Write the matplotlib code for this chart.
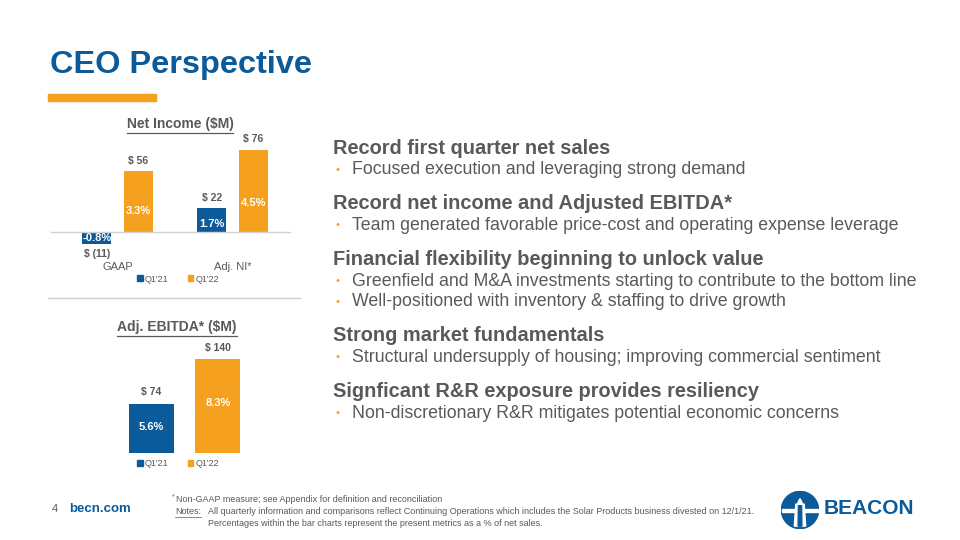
import matplotlib
matplotlib.use("Agg")
import matplotlib.pyplot as plt
from matplotlib.patches import Rectangle, Circle, Patch, Polygon
from matplotlib.lines import Line2D

plt.rcParams['font.family'] = ['Liberation Sans', 'DejaVu Sans']

# data
ni_categories = ["GAAP", "Adj. NI*"]
ni_q121 = [-11, 22]
ni_q122 = [56, 76]
ni_pct_q121 = ["-0.8%", "1.7%"]
ni_pct_q122 = ["3.3%", "4.5%"]

ebitda_q121 = [74]
ebitda_q122 = [140]
ebitda_pct_q121 = ["5.6%"]
ebitda_pct_q122 = ["8.3%"]

series_names = ["Q1'21", "Q1'22"]

headings = [
    "Record first quarter net sales",
    "Record net income and Adjusted EBITDA*",
    "Financial flexibility beginning to unlock value",
    "Strong market fundamentals",
    "Signficant R&R exposure provides resiliency",
]
bullets = [
    ["Focused execution and leveraging strong demand"],
    ["Team generated favorable price-cost and operating expense leverage"],
    ["Greenfield and M&A investments starting to contribute to the bottom line",
     "Well-positioned with inventory & staffing to drive growth"],
    ["Structural undersupply of housing; improving commercial sentiment"],
    ["Non-discretionary R&R mitigates potential economic concerns"],
]

BLUE = "#0B5A9A"
ORANGE = "#F5A01F"
GRAY = "#595959"
LGRAY = "#D0D0D0"

W, H = 960, 540
fig = plt.figure(figsize=(9.6, 5.4), dpi=100)


def fx(x):
    return x / W


def fy(y):
    return 1 - y / H


def money(v):
    return f"$ ({abs(v)})" if v < 0 else f"$ {v}"


def underline(t, color, lw=0.9, gap=2):
    fig.canvas.draw()
    bb = t.get_window_extent()
    inv = fig.transFigure.inverted()
    (x0, y0), (x1, y1) = inv.transform([(bb.x0, bb.y0 - gap), (bb.x1, bb.y0 - gap)])
    fig.add_artist(Line2D([x0, x1], [y0, y1], color=color, lw=lw, transform=fig.transFigure))


# title
fig.text(fx(50), fy(73), "CEO Perspective", fontsize=23.4, weight="bold", color=BLUE, va="baseline")
fig.add_artist(Rectangle((fx(48), fy(101)), 108 / W, 7 / H, color=ORANGE, transform=fig.transFigure))

# net income chart
ax1 = fig.add_axes([fx(48), fy(255), (300 - 48) / W, (255 - 130) / H])
x = range(len(ni_categories))
off, bw = 0.18, 0.252
b1 = ax1.bar([i - off for i in x], ni_q121, bw, color=BLUE)
b2 = ax1.bar([i + off for i in x], ni_q122, bw, color=ORANGE)
ax1.set_xlim(-0.604, 1.587)
ax1.set_ylim(-21.3, 94.4)
ax1.axhline(0, color=LGRAY, lw=1, xmin=0.01, xmax=0.96)
for bars, vals, pcts in [(b1, ni_q121, ni_pct_q121), (b2, ni_q122, ni_pct_q122)]:
    for b, v, p in zip(bars, vals, pcts):
        cx = b.get_x() + b.get_width() / 2
        ax1.annotate(money(v), (cx, v), xytext=(0, 7.5 if v > 0 else -7.5), textcoords="offset points",
                     ha="center", va="center", fontsize=7.5, weight="bold", color=GRAY)
        py = v * 0.35 if v > 0 else v * 0.5
        ax1.text(cx, py, p, ha="center", va="center", fontsize=8, weight="bold", color="white")
ax1.set_xticks(list(x))
ax1.set_xticklabels(ni_categories)
ax1.tick_params(axis="x", length=0, pad=5, labelsize=8, labelcolor=GRAY)
ax1.set_yticks([])
for s in ax1.spines.values():
    s.set_visible(False)
ax1.patch.set_alpha(0)

t1 = fig.text(fx(180), fy(124), "Net Income ($M)", fontsize=10, weight="bold", color=GRAY,
              ha="center", va="center")
underline(t1, GRAY)

handles = [Patch(color=BLUE), Patch(color=ORANGE)]
fig.legend(handles, series_names, loc="center", bbox_to_anchor=(fx(178), fy(279)), ncol=2, frameon=False,
           fontsize=6.5, handlelength=0.6, handleheight=0.6, handletextpad=0.2, columnspacing=2.2,
           labelcolor=GRAY)

fig.add_artist(Line2D([fx(48), fx(300)], [fy(298), fy(298)], color=LGRAY, lw=1, transform=fig.transFigure))

# adj. ebitda chart
ax2 = fig.add_axes([fx(110), fy(453), 150 / W, (453 - 330) / H])
e1 = ax2.bar([-0.5], ebitda_q121, 0.677, color=BLUE)
e2 = ax2.bar([0.5], ebitda_q122, 0.677, color=ORANGE)
ax2.set_xlim(-1.124, 1.132)
ax2.set_ylim(0, 184)
for bars, vals, pcts in [(e1, ebitda_q121, ebitda_pct_q121), (e2, ebitda_q122, ebitda_pct_q122)]:
    for b, v, p in zip(bars, vals, pcts):
        cx = b.get_x() + b.get_width() / 2
        ax2.annotate(money(v), (cx, v), xytext=(0, 8), textcoords="offset points",
                     ha="center", va="center", fontsize=7.5, weight="bold", color=GRAY)
        ax2.text(cx, v * 0.53, p, ha="center", va="center", fontsize=8, weight="bold", color="white")
ax2.set_xticks([])
ax2.set_yticks([])
for s in ax2.spines.values():
    s.set_visible(False)
ax2.patch.set_alpha(0)

t2 = fig.text(fx(177), fy(327), "Adj. EBITDA* ($M)", fontsize=10, weight="bold", color=GRAY,
              ha="center", va="center")
underline(t2, GRAY)
fig.legend(handles, series_names, loc="center", bbox_to_anchor=(fx(178), fy(464)), ncol=2, frameon=False,
           fontsize=6.5, handlelength=0.6, handleheight=0.6, handletextpad=0.2, columnspacing=2.2,
           labelcolor=GRAY)

# right-hand text
head_y = [153.5, 209, 265, 341, 397]
for hy, head, bl in zip(head_y, headings, bullets):
    fig.text(fx(333), fy(hy), head, fontsize=14.4, weight="bold", color=GRAY, va="baseline")
    for k, b in enumerate(bl):
        by = hy + 20.5 * (k + 1)
        fig.text(fx(336), fy(by - 1), "\u2022", fontsize=8, color=ORANGE, va="baseline")
        fig.text(fx(352), fy(by), b, fontsize=12.8, color=GRAY, va="baseline")

# footer
fig.text(fx(52), fy(509), "4", fontsize=8, color=GRAY, va="center")
fig.text(fx(69), fy(509), "becn.com", fontsize=9.5, weight="bold", color=BLUE, va="center")
foot = ['Liberation Sans Narrow', 'Liberation Sans', 'DejaVu Sans']
fig.text(fx(172), fy(497), "*", fontsize=5, color=GRAY, va="center", family=foot)
fig.text(fx(176), fy(499), "Non-GAAP measure; see Appendix for definition and reconciliation",
         fontsize=6.45, color=GRAY, va="center", family=foot)
tn = fig.text(fx(175), fy(512), "Notes:", fontsize=6.45, color=GRAY, va="center", family=foot)
underline(tn, GRAY, lw=0.5, gap=0.5)
fig.text(fx(208), fy(512), "All quarterly information and comparisons reflect Continuing Operations which "
         "includes the Solar Products business divested on 12/1/21.", fontsize=6.45, color=GRAY,
         va="center", family=foot)
fig.text(fx(208), fy(524), "Percentages within the bar charts represent the present metrics as a % of net sales.",
         fontsize=6.45, color=GRAY, va="center", family=foot)

# logo
lax = fig.add_axes([fx(781), fy(529), 38 / W, 38 / H])
lax.set_xlim(-1, 1)
lax.set_ylim(-1, 1)
lax.set_aspect("equal")
lax.axis("off")
lax.add_patch(Circle((0, 0), 0.98, color=BLUE))
lax.add_patch(Polygon([(-0.95, 0.05), (0.95, 0.05), (0.95, -0.1), (-0.95, -0.1)], color="white"))
lax.add_patch(Polygon([(-0.22, 0.3), (0.22, 0.3), (0.3, -0.85), (-0.3, -0.85)], color="white"))
lax.add_patch(Polygon([(-0.08, 0.3), (0.08, 0.3), (0.1, -0.85), (-0.1, -0.85)], color=BLUE))
lax.add_patch(Polygon([(-0.15, 0.3), (0.15, 0.3), (0, 0.6)], color="white"))
fig.text(fx(824), fy(509), "BEACON", fontsize=15, weight="bold", color=BLUE, va="center")

fig.savefig("out.png", dpi=100)
